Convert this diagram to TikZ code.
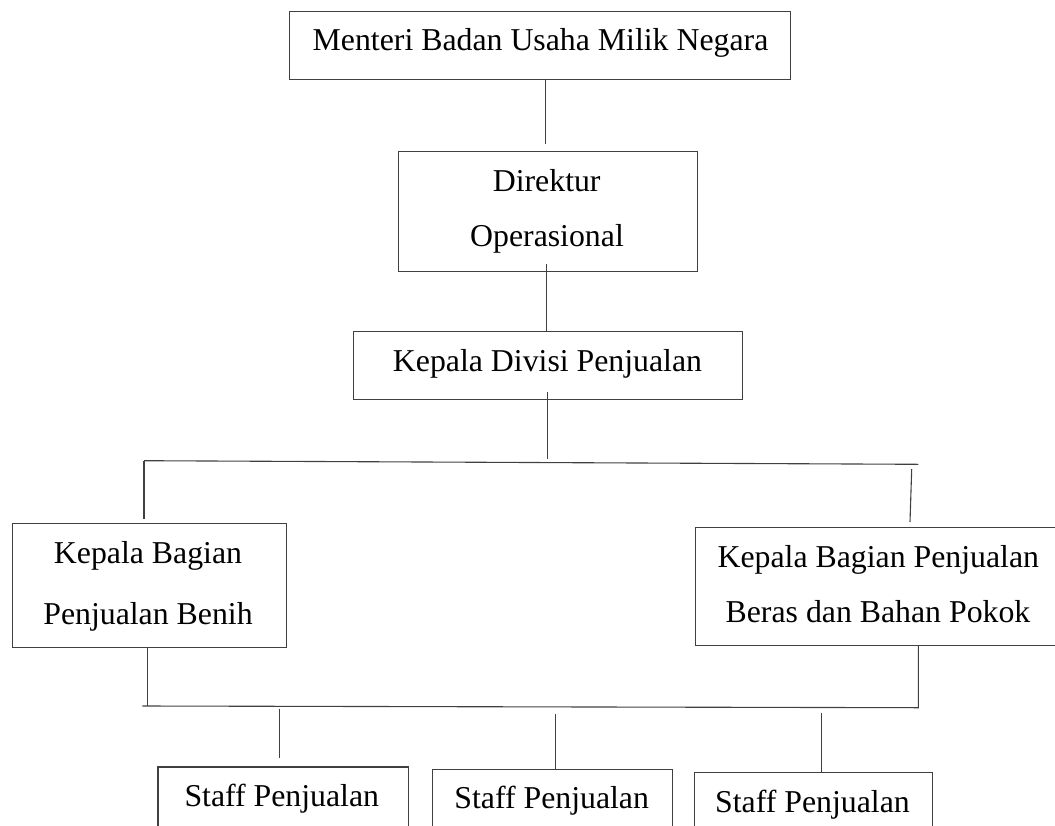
\documentclass[tikz,border=0pt]{standalone}
\usepackage{fontspec}
\setmainfont{Liberation Serif}
\begin{document}
\begin{tikzpicture}[x={(1pt,0pt)}, y={(0pt,-1pt)},
  box/.style={draw=black!75, line width=1.2pt, rectangle, inner sep=0pt, anchor=north west},
  txt/.style={font=\fontsize{31.8}{38}\selectfont, anchor=base, inner sep=0pt, text=black},
  conn/.style={draw=black!75, line width=1.1pt}]
\useasboundingbox (0,0) rectangle (1055,825);
\clip (0,0) rectangle (1055,825);

% boxes
\node[box, minimum width=501pt, minimum height=68pt] (menteri) at (288.7,11) {};
\node[box, minimum width=299.3pt, minimum height=120.3pt] (direktur) at (397.7,150.7) {};
\node[box, minimum width=388.7pt, minimum height=68pt] (divisi) at (353,330.7) {};
\node[box, minimum width=274pt, minimum height=124.3pt] (benih) at (11.7,522.7) {};
\node[box, minimum width=366.3pt, minimum height=117.7pt] (beras) at (694.7,527) {};
\node[box, minimum width=250.2pt, minimum height=100pt] (staffA) at (157.3,766.3) {};
\node[box, minimum width=240pt, minimum height=100pt] (staffB) at (432,768.7) {};
\node[box, minimum width=238pt, minimum height=100pt] (staffC) at (694,772) {};

% texts
\node[txt] (tMenteri) at (540.5,50.7) {Menteri Badan Usaha Milik Negara};
\node[txt] (tDir1) at (546.7,191.7) {Direktur};
\node[txt] (tDir2) at (547,246) {Operasional};
\node[txt] (tDiv) at (547.5,371.7) {Kepala Divisi Penjualan};
\node[txt] (tBen1) at (148,563.3) {Kepala Bagian};
\node[txt] (tBen2) at (148,624) {Penjualan Benih};
\node[txt] (tBer1) at (878.3,567.3) {Kepala Bagian Penjualan};
\node[txt] (tBer2) at (878,622.3) {Beras dan Bahan Pokok};
\node[txt] (tStA) at (281.8,806.7) {Staff Penjualan};
\node[txt] (tStB) at (551.7,808.3) {Staff Penjualan};
\node[txt] (tStC) at (812.5,812.3) {Staff Penjualan};

% free ends of connectors
\coordinate (aEnd) at (545.7,144);
\coordinate (bStart) at (546.7,264);
\coordinate (cStart) at (547.7,392);
\coordinate (cEnd) at (547.7,459);
\coordinate (hL) at (144,460.7);
\coordinate (hR) at (918.3,464.3);
\coordinate (vRtop) at (911.7,469);
\coordinate (vRbot) at (910,522);
\coordinate (vLbot) at (144,518.7);
\coordinate (hBL) at (142.3,706);
\coordinate (hBR) at (918.3,707.7);
\coordinate (sAtop) at (279.7,708.7);
\coordinate (sAbot) at (279.7,758);
\coordinate (sBtop) at (555.7,714.3);
\coordinate (sCtop) at (821.7,712.7);

% connectors
\draw[conn] (menteri.south -| aEnd) -- (aEnd);
\draw[conn] (bStart) -- (divisi.north -| bStart);
\draw[conn] (cStart) -- (cEnd);
\draw[conn] (hL) -- (hR);
\draw[conn] (hL) -- (vLbot);
\draw[conn] (vRtop) -- (vRbot);
\draw[conn] (benih.south -| 147.7,0) -- (147.7,706);
\draw[conn] (hBL) -- (hBR) -- (beras.south -| hBR);
\draw[conn] (sAtop) -- (sAbot);
\draw[conn] (sBtop) -- (staffB.north -| sBtop);
\draw[conn] (sCtop) -- (staffC.north -| sCtop);
\end{tikzpicture}
\end{document}
